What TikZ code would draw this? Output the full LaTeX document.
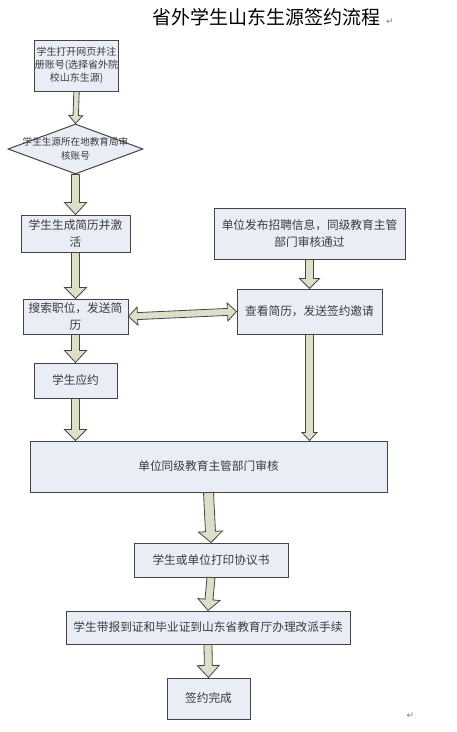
\documentclass[tikz,border=0pt]{standalone}
\usepackage{fontspec}
\setmainfont{Noto Sans CJK SC}
\newfontfamily\marksfont{DejaVu Sans}
\usetikzlibrary{shapes.geometric, calc}
\definecolor{paleblue}{rgb}{0.910,0.929,0.965}
\definecolor{sage}{rgb}{0.867,0.875,0.788}
\definecolor{edge}{rgb}{0.270,0.270,0.270}
\definecolor{ink}{rgb}{0.230,0.230,0.230}

\newcommand{\fatarrow}[5]{%
  \draw[fat] let \p1=(#1), \p2=(#2), \n1={atan2(\y2-\y1,\x2-\x1)}, \n2={veclen(\x2-\x1,\y2-\y1)} in
    [shift={(\p1)}, rotate=\n1]
    (0,#3) -- ({\n2-#5},#3) -- ({\n2-#5},#4) -- (\n2,0) -- ({\n2-#5},-#4) -- ({\n2-#5},-#3) -- (0,-#3) -- cycle;}
\newcommand{\dblarrow}[5]{%
  \draw[fat] let \p1=(#1), \p2=(#2), \n1={atan2(\y2-\y1,\x2-\x1)}, \n2={veclen(\x2-\x1,\y2-\y1)} in
    [shift={(\p1)}, rotate=\n1]
    (0,0) -- (#5,#4) -- (#5,#3) -- ({\n2-#5},#3) -- ({\n2-#5},#4) -- (\n2,0) -- ({\n2-#5},-#4)
    -- ({\n2-#5},-#3) -- (#5,-#3) -- (#5,-#4) -- cycle;}

\begin{document}
\begin{tikzpicture}[
  x=1pt, y=-1pt,
  box/.style={
    draw=edge,
    fill=paleblue,
    line width=1pt,
    text=ink,
    align=center,
    inner sep=0pt,
    font=\fontsize{11.7}{17}\selectfont,
  },
  fat/.style={draw=edge, fill=sage, line width=0.8pt, line join=miter},
  parmark/.style={text=gray, font=\marksfont\fontsize{9}{9}\selectfont},
]
\useasboundingbox[fill=white] (0,0) rectangle (456,732);

\node[font=\fontsize{19}{19}\selectfont] (title) at (266.5,17) {省外学生山东生源签约流程};
\node[parmark, anchor=base west, inner sep=0pt] (titlemark) at ([xshift=2pt]title.base east) {↵};

\node[box, minimum width=83pt, minimum height=51pt, font=\fontsize{10}{13}\selectfont] (register) at (76.5,65.5)
  {学生打开网页并注\\册账号(选择省外院\\校山东生源)};
\node[box, diamond, minimum width=135pt, minimum height=50pt,
  label={[text=ink, align=center, font=\fontsize{9.6}{14}\selectfont]center:学生生源所在地教育局审\\核账号}] (verify) at (75.5,149) {};
\node[box, minimum width=109pt, minimum height=37pt] (resume) at (75.5,233.5) {学生生成简历并激\\活};
\node[box, minimum width=191pt, minimum height=51pt] (publish) at (309.5,233.5) {单位发布招聘信息，同级教育主管\\部门审核通过};
\node[box, minimum width=105pt, minimum height=35pt] (search) at (75.5,316.5) {搜索职位，发送简\\历};
\node[box, minimum width=145pt, minimum height=45pt] (review) at (309.5,311.5) {查看简历，发送签约邀请};
\node[box, minimum width=83pt, minimum height=35pt] (accept) at (75.5,380.5) {学生应约};
\node[box, minimum width=357pt, minimum height=51pt] (audit) at (208.5,466.5) {单位同级教育主管部门审核};
\node[box, minimum width=154pt, minimum height=34pt] (print) at (211,560) {学生或单位打印协议书};
\node[box, minimum width=284pt, minimum height=33pt] (transfer) at (208,627.5) {学生带报到证和毕业证到山东省教育厅办理改派手续};
\node[box, minimum width=83pt, minimum height=41pt] (done) at (208.5,698.5) {签约完成};

\node[parmark] (endmark) at (410.5,716) {↵};

\fatarrow{register.south}{verify.north}{2.7}{7}{8}
\fatarrow{verify.south}{resume.north}{4}{11}{12}
\fatarrow{resume.south}{search.north}{4}{11}{11}
\fatarrow{publish.south}{review.north}{4}{10}{10}
\dblarrow{search.east}{review.west}{3.5}{9}{9}
\fatarrow{search.south}{accept.north}{4}{11}{12}
\fatarrow{accept.south}{accept.south |- audit.north}{4}{11}{11}
\fatarrow{review.south}{review.south |- audit.north}{4}{7.5}{8}
\fatarrow{audit.south}{print.north}{5}{12}{11}
\fatarrow{print.south}{transfer.north}{4}{11}{11}
\fatarrow{transfer.south}{done.north}{4}{11}{12}

\end{tikzpicture}
\end{document}
